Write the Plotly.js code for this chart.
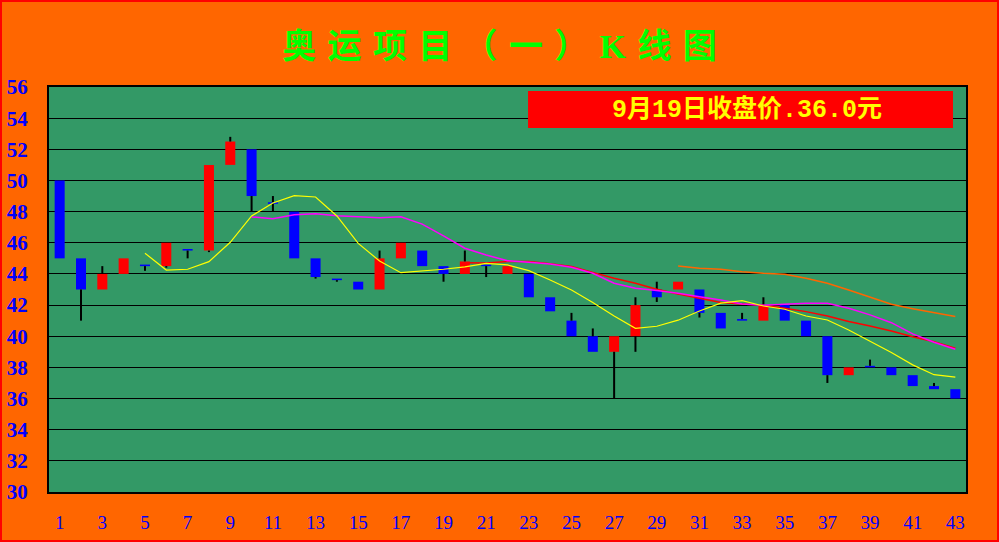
<!DOCTYPE html>
<html>
<head>
<meta charset="utf-8">
<script src="https://cdn.plot.ly/plotly-3.0.1.min.js"></script>
<style>
html,body{margin:0;padding:0;background:#FF6600;}
#chart{width:995px;height:538px;border:2px solid #FF0000;}
</style>
</head>
<body>
<div id="chart"></div>
<script>
// ---- data ----
var days = [];
for (var d = 1; d <= 43; d++) days.push(d);

var openP  = [50,45,43,44,44.6,44.5,45.6,45.5,51,52,48.6,48,45,43.7,43.5,43,45,45.5,44.5,44,44.6,44,44,42.5,41,40,39,40,43,43,43,41.5,41.1,41,42,41,40,37.5,38.1,38,37.5,36.8,36.6];
var highP  = [50,45,44.5,45,44.6,46,45.6,51,52.8,52,49,48,45,43.7,43.5,45.5,46,45.5,44.5,45.5,44.6,44.5,44,42.5,41.5,40.5,40,42.5,43.5,43.5,43,41.5,41.5,42.5,42,41,40,38,38.5,38,37.5,37,36.6];
var lowP   = [45,41,43,44,44.2,44.4,45.0,45.4,51,48,48,45,43.7,43.5,43,43,45,44.5,43.5,44,43.8,44,42.5,41.6,40,39,36,39,42.2,43,41.2,40.5,41,41,41,40,37,37.5,38,37.5,36.8,36.6,36];
var closeP = [45,43,44,45,44.5,46,45.5,51,52.5,49,48.5,45,43.8,43.6,43,45,46,44.5,44,44.8,44.5,44.5,42.5,41.6,40,39,40,42,42.5,43.5,41.5,40.5,41,42,41,40,37.5,38,38,37.5,36.8,36.6,36];

var ma5Days  = days.slice(4);   // 5..43
var ma5      = [45.33,44.25,44.3,44.79,46.03,47.72,48.55,49.02,48.94,47.72,45.96,44.83,44.08,44.17,44.3,44.45,44.68,44.58,44.21,43.61,42.97,42.16,41.3,40.51,40.64,41.03,41.62,42.12,42.29,41.94,41.73,41.3,41.04,40.4,39.7,38.95,38.16,37.53,37.37];
var ma10Days = days.slice(9);   // 10..43
var ma10     = [47.66,47.55,47.8,47.86,47.73,47.67,47.6,47.67,47.2,46.44,45.65,45.22,44.85,44.75,44.64,44.43,44.04,43.4,43.08,42.93,42.76,42.54,42.33,42.07,41.99,42.05,42.12,42.12,41.8,41.37,40.87,40.15,39.61,39.16];
var ma20Days = days.slice(19);  // 20..43
var ma20     = [44.72,44.7,44.79,44.79,44.66,44.47,44.1,43.72,43.4,43.02,42.71,42.44,42.16,42.07,41.99,41.8,41.58,41.3,40.94,40.66,40.34,39.97,39.65,39.23];
var ma30Days = days.slice(29);  // 30..43
var ma30     = [44.51,44.36,44.3,44.14,44.04,43.98,43.72,43.4,42.97,42.5,42.05,41.77,41.51,41.26];

var xTicks = days.filter(function(v){return v % 2 === 1;});
var yTicks = [30,32,34,36,38,40,42,44,46,48,50,52,54,56];

var titleText = "奥运项目（一）K线图";
var noteText  = "9月19日收盘价.36.0元";

(function () {
  // ---- build traces ----
  var bodyBase = [], bodyLen = [], bodyColor = [];
  var wx = [], wy = [];
  for (var i = 0; i < days.length; i++) {
    var hiBody = Math.max(openP[i], closeP[i]);
    var loBody = Math.min(openP[i], closeP[i]);
    bodyBase.push(loBody);
    bodyLen.push(hiBody - loBody);
    bodyColor.push(closeP[i] >= openP[i] ? "#FF0000" : "#0000FF");
    if (highP[i] > hiBody) { wx.push(days[i], days[i], null); wy.push(highP[i], hiBody, null); }
    if (lowP[i] < loBody)  { wx.push(days[i], days[i], null); wy.push(loBody, lowP[i], null); }
  }

  var traces = [
    {type:"bar", x:days, y:bodyLen, base:bodyBase, width:0.47,
     marker:{color:bodyColor, line:{width:0}}, hoverinfo:"skip"},
    {type:"scatter", mode:"lines", x:wx, y:wy, connectgaps:false,
     line:{color:"#000000", width:2}, hoverinfo:"skip"},
    {type:"scatter", mode:"lines", x:ma30Days, y:ma30, line:{color:"#FF6600", width:1.5}},
    {type:"scatter", mode:"lines", x:ma20Days, y:ma20, line:{color:"#FF0000", width:1.5}},
    {type:"scatter", mode:"lines", x:ma10Days, y:ma10, line:{color:"#FF00FF", width:1.5}},
    {type:"scatter", mode:"lines", x:ma5Days,  y:ma5,  line:{color:"#FFFF00", width:1.2}}
  ];

  // spread the title glyphs like the reference (three-per-em space between characters)
  var spacedTitle = Array.from(titleText).join("\u2004");

  var layout = {
    width:995, height:538,
    paper_bgcolor:"#FF6600", plot_bgcolor:"#339966",
    margin:{l:47, r:31, t:85, b:48},
    showlegend:false,
    title:{text:spacedTitle, x:0.5, xanchor:"center", y:0.918, yanchor:"middle",
           font:{family:"Liberation Serif, Noto Sans CJK SC", size:34, color:"#00FF00", weight:"bold"}},
    xaxis:{range:[0.5,43.5], tickmode:"array", tickvals:xTicks, ticktext:xTicks.map(String),
           showgrid:false, zeroline:false, showline:true, mirror:true, linecolor:"#000000", linewidth:2,
           ticks:"", ticklabelstandoff:12,
           tickfont:{family:"Liberation Serif", size:19, color:"#0000FF"}},
    yaxis:{range:[30,56], tickmode:"array", tickvals:yTicks, ticktext:yTicks.map(String),
           showgrid:true, gridcolor:"#000000", gridwidth:1, zeroline:false,
           showline:true, mirror:true, linecolor:"#000000", linewidth:2,
           ticks:"", ticklabelstandoff:15,
           tickfont:{family:"Liberation Serif", size:21, color:"#0000FF", weight:"bold"}},
    shapes:[{type:"rect", xref:"paper", yref:"paper", x0:0.5224, x1:0.9858, y0:0.8988, y1:0.990,
             fillcolor:"#FF0000", line:{width:0}, layer:"above"}],
    annotations:[{xref:"paper", yref:"paper", x:0.761, y:0.944, xanchor:"center", yanchor:"middle",
                  showarrow:false, text:noteText,
                  font:{family:"Liberation Mono, Noto Sans CJK SC", size:25, color:"#FFFF00", weight:"bold"}}]
  };

  Plotly.newPlot("chart", traces, layout, {displayModeBar:false, staticPlot:true});
})();
</script>
</body>
</html>
